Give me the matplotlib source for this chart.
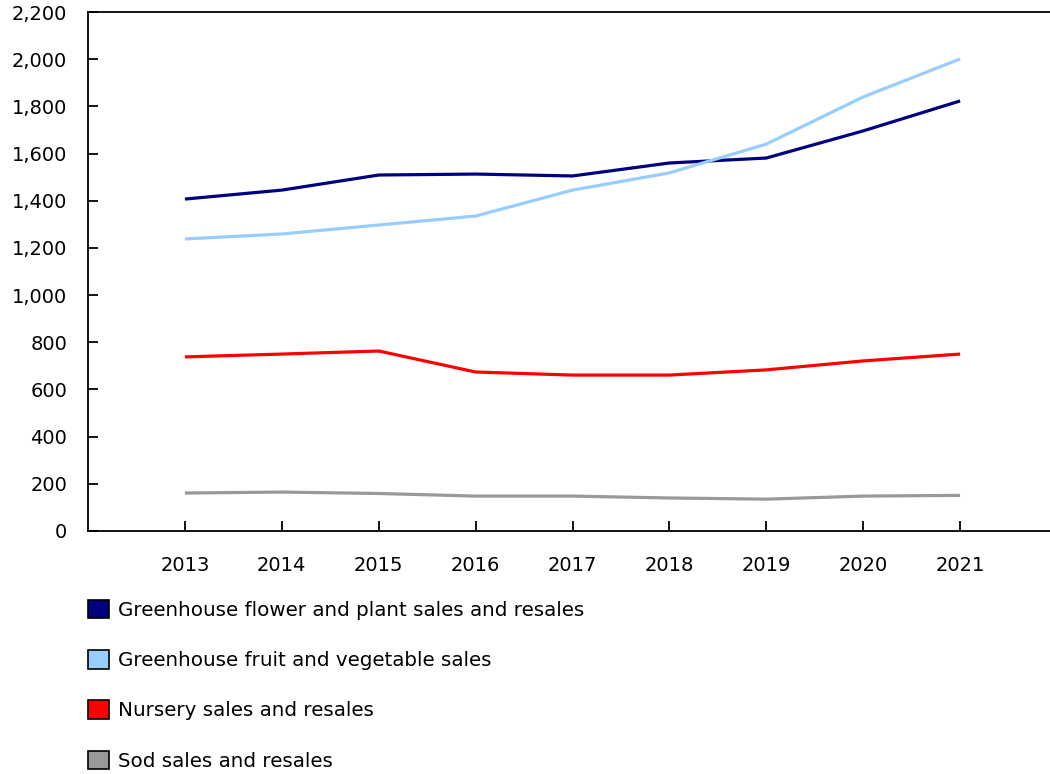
import matplotlib
matplotlib.use('Agg')
import matplotlib.pyplot as plt
from matplotlib.patches import Patch

# Data
years = [2013, 2014, 2015, 2016, 2017, 2018, 2019, 2020, 2021]
flower_plant = [1407, 1445, 1509, 1513, 1505, 1560, 1581, 1696, 1823]
fruit_veg = [1238, 1259, 1297, 1335, 1445, 1518, 1640, 1840, 2001]
nursery = [738, 750, 763, 674, 661, 661, 683, 721, 750]
sod = [161, 165, 159, 148, 148, 140, 135, 148, 151]

labels = ['Greenhouse flower and plant sales and resales',
          'Greenhouse fruit and vegetable sales',
          'Nursery sales and resales',
          'Sod sales and resales']
colors = ['#000080', '#99CCFF', '#FF0000', '#999999']
series = [flower_plant, fruit_veg, nursery, sod]

y_ticks = list(range(0, 2201, 200))

fig = plt.figure(figsize=(10.5, 7.74), dpi=100)
ax = fig.add_axes([88 / 1050, (774 - 531) / 774, 969 / 1050, 519 / 774])

for vals, c in zip(series, colors):
    ax.plot(years, vals, color=c, linewidth=2.3, solid_capstyle='butt')

ax.set_xlim(2012, 2022)
ax.set_ylim(0, 2200)
ax.set_xticks(years)
ax.set_yticks(y_ticks)
ax.set_yticklabels([f'{v:,}' for v in y_ticks])
ax.spines['right'].set_visible(False)
for s in ['left', 'top', 'bottom']:
    ax.spines[s].set_linewidth(1.3)
ax.tick_params(direction='in', length=7.5, width=1.3, labelsize=14, pad=15)
ax.tick_params(axis='x', pad=18)

handles = [Patch(facecolor=c, edgecolor='black', linewidth=1.2) for c in colors]
fig.legend(handles, labels, loc='upper left',
           bbox_to_anchor=(88 / 1050, 1 - 600 / 774),
           frameon=False, fontsize=14.3, borderpad=0, borderaxespad=0,
           handlelength=1.05, handleheight=1.05, handletextpad=0.45,
           labelspacing=1.52)

fig.savefig('out.png', dpi=100)
